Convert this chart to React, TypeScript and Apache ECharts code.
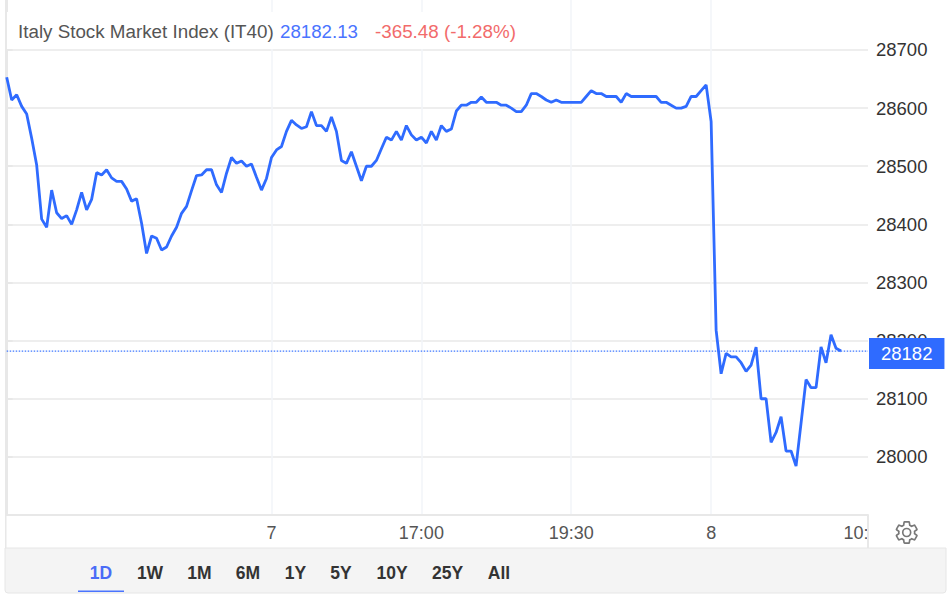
import React, { useEffect, useRef } from "react";
import * as echarts from "echarts";

const prices: number[] = [
  28653, 28614, 28623, 28603, 28590, 28548, 28502, 28409, 28395, 28459, 28420, 28410, 28415, 28400, 28425, 28455,
  28425, 28443, 28489, 28485, 28494, 28480, 28474, 28474, 28461, 28440, 28444, 28402, 28350, 28380, 28376, 28356,
  28361, 28380, 28395, 28419, 28431, 28458, 28484, 28485, 28494, 28494, 28468, 28455, 28488, 28515, 28505, 28509,
  28500, 28504, 28481, 28459, 28479, 28515, 28528, 28534, 28560, 28579, 28571, 28565, 28568, 28594, 28570, 28570,
  28560, 28585, 28560, 28510, 28505, 28525, 28500, 28475, 28500, 28500, 28510, 28530, 28550, 28545, 28560, 28545,
  28570, 28554, 28545, 28550, 28540, 28560, 28545, 28570, 28560, 28564, 28595, 28605, 28605, 28610, 28610, 28619,
  28610, 28610, 28610, 28605, 28605, 28600, 28594, 28594, 28605, 28625, 28625, 28620, 28614, 28610, 28614, 28610,
  28610, 28610, 28610, 28610, 28620, 28630, 28625, 28625, 28620, 28620, 28620, 28610, 28625, 28620, 28620, 28620,
  28620, 28620, 28620, 28610, 28610, 28605, 28600, 28600, 28603, 28620, 28620, 28630, 28640, 28577, 28218, 28143,
  28178, 28172, 28172, 28162, 28147, 28158, 28189, 28100, 28100, 28025, 28042, 28069, 28010, 28010, 27984, 28058,
  28133, 28119, 28119, 28189, 28162, 28210, 28187, 28182,
];
const gridTickIndexes = [53, 83, 113, 141];
const xLabelIndexes = [53, 83, 113, 141, 170];
const xLabels = ["7", "17:00", "19:30", "8", "10:"];
const yLabels = [28000, 28100, 28200, 28300, 28400, 28500, 28600, 28700];
const yTicks = [27900, ...yLabels];
const lastPrice = 28182;
const xMax = 172.4;
const ranges = ["1D", "1W", "1M", "6M", "1Y", "5Y", "10Y", "25Y", "All"];
const rangeCentres = [101, 150, 199.5, 248, 295.5, 341, 392, 447.5, 499];
const titleName = "Italy Stock Market Index (IT40)";
const titlePrice = "28182.13";
const titleChange = "-365.48 (-1.28%)";

const GEAR =
  "M19.14 12.94c.04-.3.06-.61.06-.94 0-.32-.02-.64-.07-.94l2.03-1.58c.18-.14.23-.41.12-.61l-1.92-3.32c-.12-.22-.37-.29-.59-.22l-2.39.96c-.5-.38-1.03-.7-1.62-.94l-.36-2.54c-.04-.24-.24-.41-.48-.41h-3.84c-.24 0-.43.17-.47.41l-.36 2.54c-.59.24-1.13.57-1.62.94l-2.39-.96c-.22-.08-.47 0-.59.22L2.74 8.87c-.12.21-.08.47.12.61l2.03 1.58c-.05.3-.09.63-.09.94s.02.64.07.94l-2.03 1.58c-.18.14-.23.41-.12.61l1.92 3.32c.12.22.37.29.59.22l2.39-.96c.5.38 1.03.7 1.62.94l.36 2.54c.05.24.24.41.48.41h3.84c.24 0 .44-.17.47-.41l.36-2.54c.59-.24 1.13-.56 1.62-.94l2.39.96c.22.08.47 0 .59-.22l1.92-3.32c.12-.22.07-.47-.12-.61l-2.01-1.58zM12 15.6c-1.98 0-3.6-1.62-3.6-3.6s1.62-3.6 3.6-3.6 3.6 1.62 3.6 3.6-1.62 3.6-3.6 3.6z";
echarts.graphic.registerShape("gear", echarts.graphic.extendPath(GEAR, {}) as any);

const FONT = "'Liberation Sans', Arial, sans-serif";
const BLUE = "#2f6bff";
const GRID = "#e8e8e8";

export default function App() {
  const ref = useRef<HTMLDivElement>(null);
  useEffect(() => {
    const chart = echarts.init(ref.current!, undefined, { renderer: "svg" });
    chart.setOption({
      animation: false,
      backgroundColor: "#fff",
      textStyle: { fontFamily: FONT },
      grid: { left: 6.7, right: 80, top: 0, bottom: 83 },
      xAxis: {
        type: "value",
        min: 0,
        max: xMax,
        axisLine: { show: true, lineStyle: { color: GRID, width: 2 } },
        axisTick: { show: false, customValues: gridTickIndexes },
        splitLine: { show: true, lineStyle: { color: "#f2f5f9", width: 1.5 } },
        axisLabel: {
          customValues: xLabelIndexes,
          margin: 9,
          fontSize: 18,
          color: "#555",
          fontFamily: FONT,
          formatter: (v: number) => xLabels[xLabelIndexes.indexOf(v)] ?? "",
        },
      },
      yAxis: {
        type: "value",
        position: "right",
        min: 27900,
        max: 28786,
        axisLine: { show: true, lineStyle: { color: GRID, width: 2 } },
        axisTick: { show: true, length: 6, lineStyle: { color: GRID, width: 2 }, customValues: yTicks },
        splitLine: { show: true, lineStyle: { color: GRID, width: 1.5 } },
        axisLabel: {
          customValues: yLabels,
          margin: 8,
          fontSize: 18.5,
          color: "#333",
          fontFamily: FONT,
          formatter: (v: number) => String(v),
        },
      },
      series: [
        {
          type: "line",
          data: [[0, lastPrice], [xMax, lastPrice]],
          showSymbol: false,
          silent: true,
          lineStyle: { color: "#3f78ff", type: [1.5, 1.5], width: 1.4 },
          z: 4,
        },
        {
          type: "line",
          data: prices.map((p, i) => [i, p]),
          showSymbol: false,
          lineStyle: { color: BLUE, width: 2.8 },
          z: 5,
          markLine: {
            silent: true,
            symbol: "none",
            animation: false,
            data: [{ yAxis: lastPrice }],
            lineStyle: { color: "rgba(47,107,255,0)", width: 0 },
            label: {
              show: true,
              position: "end",
              distance: 1,
              offset: [0, 2.5],
              formatter: String(lastPrice),
              color: "#fff",
              fontSize: 18.5,
              fontFamily: FONT,
              backgroundColor: BLUE,
              padding: [6, 12, 6, 12],
            },
          },
        },
      ],
      graphic: [
        { type: "rect", z: 3, shape: { x: 7, y: 12, width: 520, height: 37 }, style: { fill: "#fff" } },
        { type: "text", z: 4, x: 18, y: 31, style: { text: titleName, font: `18.8px ${FONT}`, fill: "#555", textVerticalAlign: "middle" } },
        { type: "text", z: 4, x: 280, y: 31, style: { text: titlePrice, font: `18.7px ${FONT}`, fill: "#4a74ff", textVerticalAlign: "middle" } },
        { type: "text", z: 4, x: 375, y: 31, style: { text: titleChange, font: `18.8px ${FONT}`, fill: "#f26b6b", textVerticalAlign: "middle" } },
        { type: "rect", z: 1, shape: { x: 5, y: 0, width: 1.5, height: 590 }, style: { fill: GRID } },
        { type: "line", z: 1, shape: { x1: 868, y1: 515, x2: 868, y2: 548 }, style: { stroke: GRID, lineWidth: 2 } },
        { type: "rect", z: 1, shape: { x: 5, y: 548, width: 941, height: 45, r: [0, 0, 3, 3] }, style: { fill: "#f4f4f4", stroke: "#e6e6e6", lineWidth: 1 } },
        ...ranges.map((r, i) => ({
          type: "text",
          z: 4,
          x: rangeCentres[i],
          y: 573,
          style: {
            text: r,
            font: `bold 17.5px ${FONT}`,
            fill: i === 0 ? "#4a6cf7" : "#333",
            textAlign: "center",
            textVerticalAlign: "middle",
          },
        })),
        { type: "rect", z: 4, shape: { x: 78, y: 590.5, width: 46, height: 1.5 }, style: { fill: "#4a74ff" } },
        { type: "gear", z: 4, x: 893.5, y: 519.3, scaleX: 1.1, scaleY: 1.1, style: { fill: "none", stroke: "#777", lineWidth: 1.5 } },
      ],
    } as any);
    return () => chart.dispose();
  }, []);
  return <div ref={ref} style={{ position: "fixed", left: 0, top: 0, width: 948, height: 598 }} />;
}
